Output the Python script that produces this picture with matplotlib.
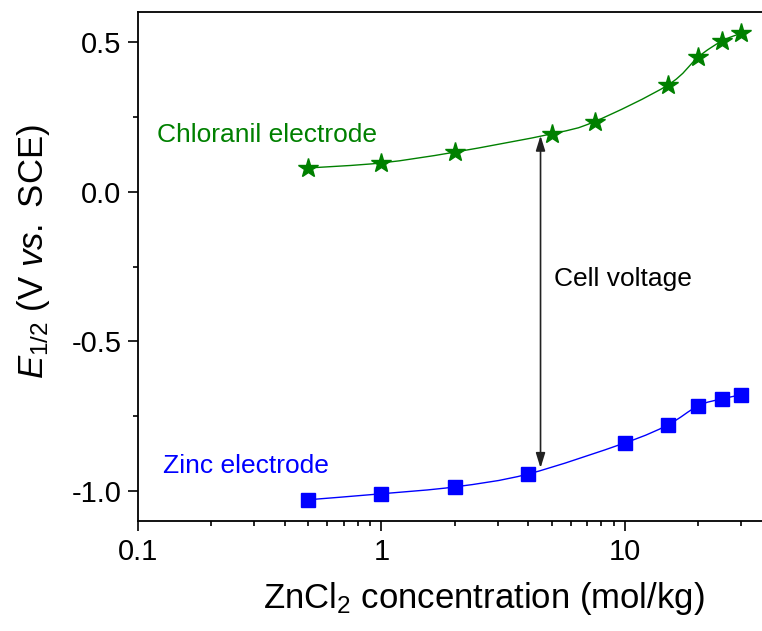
import numpy as np
import matplotlib
matplotlib.use('Agg')
import matplotlib.pyplot as plt
from matplotlib.path import Path
from matplotlib.patches import PathPatch

plt.rcParams['font.family'] = ['Liberation Sans', 'DejaVu Sans']
plt.rcParams['mathtext.fontset'] = 'custom'
plt.rcParams['mathtext.rm'] = 'Liberation Sans'
plt.rcParams['mathtext.it'] = 'Liberation Sans:italic'

# half-wave potentials vs ZnCl2 molality
conc_chloranil = [0.5, 1, 2, 5, 7.5, 15, 20, 25, 30]
e_chloranil = [0.079, 0.096, 0.132, 0.193, 0.234, 0.356, 0.450, 0.503, 0.529]

conc_zinc = [0.5, 1, 2, 4, 10, 15, 20, 25, 30]
e_zinc = [-1.029, -1.009, -0.986, -0.943, -0.839, -0.779, -0.715, -0.692, -0.679]

# cell voltage arrow (concentration, top, bottom)
arrow_conc = 4.5
arrow_top = 0.187
arrow_bottom = -0.923


def smooth_path(xs, ys, tension=0.5):
    # Catmull-Rom through the points in log-x space, as cubic Bezier segments
    lx = np.log10(np.asarray(xs, float))
    y = np.asarray(ys, float)
    pts = np.column_stack([lx, y])
    n = len(pts)
    verts = [pts[0]]
    codes = [Path.MOVETO]
    for i in range(n - 1):
        p0 = pts[max(i - 1, 0)]
        p1 = pts[i]
        p2 = pts[i + 1]
        p3 = pts[min(i + 2, n - 1)]
        c1 = p1 + (p2 - p0) * tension / 3.0
        c2 = p2 - (p3 - p1) * tension / 3.0
        verts += [c1, c2, p2]
        codes += [Path.CURVE4] * 3
    verts = np.array(verts)
    verts[:, 0] = 10 ** verts[:, 0]
    return Path(verts, codes)


fig = plt.figure(figsize=(7.62, 6.31), dpi=100)
ax = fig.add_axes([0.181, 0.1743, 0.8316, 0.8067])

green = '#008000'
blue = '#0000ff'

ax.add_patch(PathPatch(smooth_path(conc_chloranil, e_chloranil), fill=False,
                       edgecolor=green, lw=1.0))
ax.add_patch(PathPatch(smooth_path(conc_zinc, e_zinc), fill=False,
                       edgecolor=blue, lw=1.0))
ax.plot(conc_chloranil, e_chloranil, linestyle='none', marker='*', ms=15,
        color=green, mec=green)
ax.plot(conc_zinc, e_zinc, linestyle='none', marker='s', ms=10,
        color=blue, mec=blue)

ax.annotate('', xy=(arrow_conc, arrow_top), xytext=(arrow_conc, arrow_bottom),
            arrowprops=dict(arrowstyle='<|-|>,head_length=0.9,head_width=0.28',
                            color='#222222', lw=1.2, shrinkA=0, shrinkB=0))

ax.text(0.120, 0.166, 'Chloranil electrode', color=green, fontsize=19)
ax.text(0.127, -0.941, 'Zinc electrode', color=blue, fontsize=19)
ax.text(5.09, -0.316, 'Cell voltage', color='black', fontsize=19)

ax.set_xscale('log')
ax.set_xlim(0.1, 40)
ax.set_ylim(-1.1, 0.6)
ax.set_xticks([0.1, 1, 10])
ax.set_xticklabels(['0.1', '1', '10'])
ax.set_yticks([-1.0, -0.5, 0.0, 0.5])
ax.set_yticklabels(['-1.0', '-0.5', '0.0', '0.5'])
ax.set_yticks([-0.75, -0.25, 0.25], minor=True)

ax.spines['right'].set_visible(False)
for sp in ax.spines.values():
    sp.set_linewidth(1.3)
ax.tick_params(axis='both', which='major', direction='out', length=7,
               width=1.2, labelsize=21, pad=5)
ax.tick_params(axis='both', which='minor', direction='out', length=3.6,
               width=1.2)
ax.tick_params(top=False, right=False, which='both')

ax.set_xlabel(r'ZnCl$_2$ concentration (mol/kg)', fontsize=25)
ax.set_ylabel(r'$\mathit{E}_{\mathrm{1/2}}$ (V $\mathit{vs.}$ SCE)', fontsize=25)
ax.xaxis.set_label_coords(0.546, -0.115)
ax.yaxis.set_label_coords(-0.135, 0.53)

fig.savefig('out.png', dpi=100)
plt.close(fig)
